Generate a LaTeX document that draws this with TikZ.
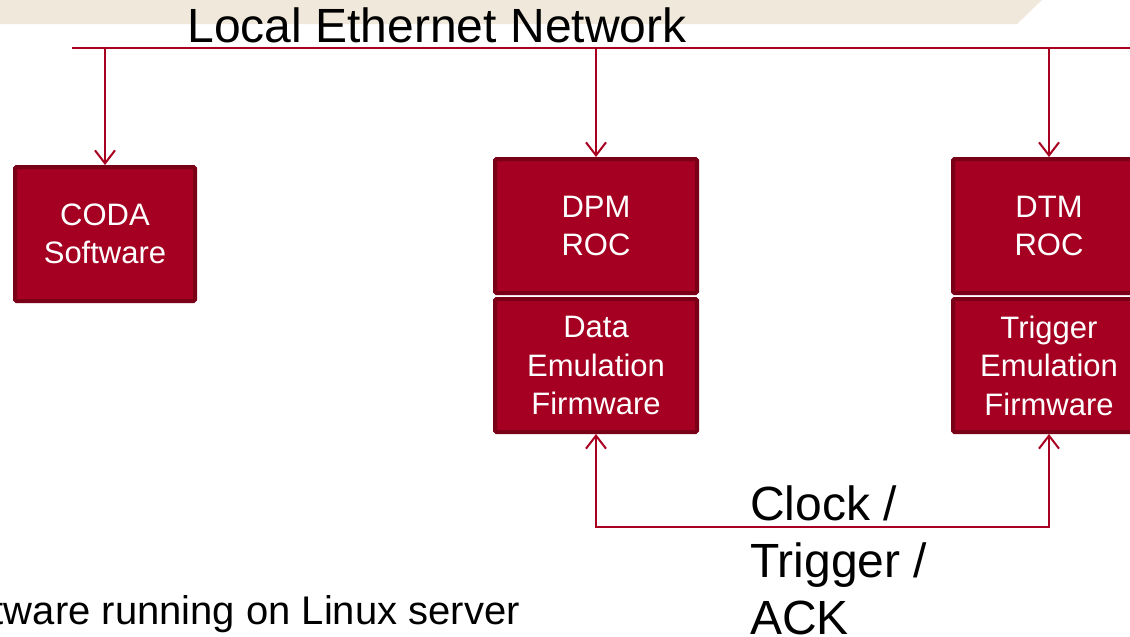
\documentclass[tikz,border=0pt]{standalone}
\usepackage{fontspec}
\setmainfont{Liberation Sans}
\usetikzlibrary{arrows.meta}
\definecolor{boxred}{RGB}{165,0,33}
\definecolor{boxedge}{RGB}{122,0,24}
\definecolor{linered}{RGB}{168,0,32}
\definecolor{beige}{RGB}{240,232,218}
\tikzset{
  redbox/.style={draw=boxedge, fill=boxred, line width=4pt, rounded corners=1.5pt,
    text=white, align=center, inner sep=0pt,
    font=\fontsize{31}{38.5}\selectfont},
  netline/.style={draw=linered, line width=2pt},
  arr/.style={netline, -{Straight Barb[length=13pt,width=20pt,line width=2pt]}},
  darr/.style={netline, {Straight Barb[length=13pt,width=20pt,line width=2pt]}-{Straight Barb[length=13pt,width=20pt,line width=2pt]}},
  bigtext/.style={text=black, inner sep=0pt, font=\fontsize{48}{57}\selectfont},
}
\begin{document}
\begin{tikzpicture}[x=1pt,y=-1pt]
\useasboundingbox (0,0) rectangle (1130,637);
\clip (0,0) rectangle (1130,637);
\fill[beige] (0,0) -- (1042,0) -- (1017,24) -- (0,24) -- cycle;
\node[bigtext, anchor=base] (title) at (437,42) {Local Ethernet Network};
\coordinate (busL) at (72,48);
\coordinate (busR) at (1135,48);
\draw[netline] (busL) -- (busR);
\node[redbox, minimum width=180pt, minimum height=134pt] (coda) at (105,234) {CODA\\Software};
\node[redbox, minimum width=202pt, minimum height=134pt] (dpm) at (596,226) {DPM\\ROC};
\node[redbox, minimum width=202pt, minimum height=133pt] (data) at (596,365.5) {Data\\Emulation\\Firmware};
\node[redbox, minimum width=192pt, minimum height=134pt] (dtm) at (1049,226) {DTM\\ROC};
\node[redbox, minimum width=192pt, minimum height=133pt] (trig) at (1049,365.5) {Trigger\\Emulation\\Firmware};
\draw[arr] (coda.north |- busL) -- (coda.north);
\draw[arr] (dpm.north |- busL) -- (dpm.north);
\draw[arr] (dtm.north |- busL) -- (dtm.north);
\coordinate (lowL) at (596,527);
\draw[darr] (data.south) -- (lowL) -| (trig.south);
\node[bigtext, align=left, anchor=base west] (clk) at (750,634) {Clock /\\Trigger /\\ACK};
\node[text=black, inner sep=0pt, anchor=base east, font=\fontsize{40}{48}\selectfont] (note) at (520,624) {tware running on Linux server};
\end{tikzpicture}
\end{document}
